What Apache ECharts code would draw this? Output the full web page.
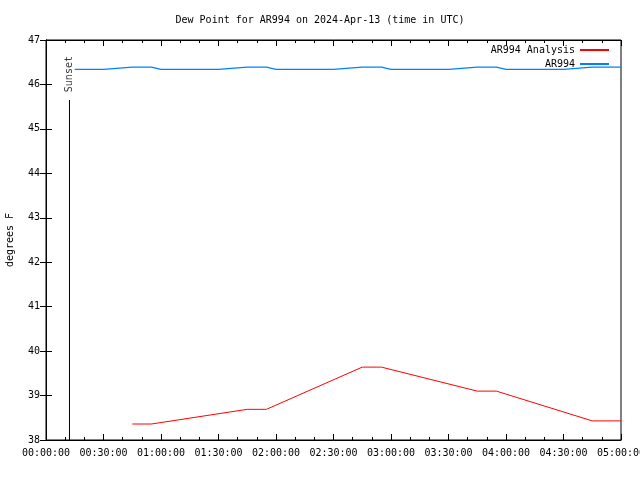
<!DOCTYPE html>
<html>
<head>
<meta charset="utf-8">
<script src="https://cdn.jsdelivr.net/npm/echarts@6/dist/echarts.min.js"></script>
<style>html,body{margin:0;padding:0;background:#fff}#c{width:640px;height:480px}</style>
</head>
<body>
<div id="c"></div>
<script>
const titleText = "Dew Point for AR994 on 2024-Apr-13 (time in UTC)";
const yAxisName = "degrees F";
const analysisName = "AR994 Analysis";
const obsName = "AR994";

const analysisTimes = ["00:45","00:55","01:45","01:55","02:45","02:55","03:45","03:55","04:45","04:55","05:00"];
const analysisValues = [38.36,38.36,38.69,38.69,39.64,39.64,39.10,39.10,38.43,38.43,38.43];

const obsTimes = ["00:15","00:30","00:45","00:55","01:00","01:15","01:30","01:45","01:55","02:00",
                  "02:15","02:30","02:45","02:55","03:00","03:15","03:30","03:45","03:55","04:00",
                  "04:15","04:30","04:45","04:55","05:00"];
const obsValues = [46.34,46.34,46.39,46.39,46.34,46.34,46.34,46.39,46.39,46.34,
                   46.34,46.34,46.39,46.39,46.34,46.34,46.34,46.39,46.39,46.34,
                   46.34,46.34,46.39,46.39,46.39];

const sunsetTime = "00:12:15";
const sunsetLabel = "Sunset";
const sunsetTop = 45.65;
const sunsetLabelY = 46.21;

const xMin = 0, xMax = 300, xInterval = 30;
const yMin = 38, yMax = 47, yInterval = 1;

function toMin(t){ const p = t.split(":"); return (+p[0])*60 + (+p[1]) + (p[2] ? (+p[2])/60 : 0); }
function fmt(m){ const h = Math.floor(m/60), mm = m%60; return String(h).padStart(2,"0")+":"+String(mm).padStart(2,"0")+":00"; }
function pairs(ts, vs){ return ts.map((t,i)=>[toMin(t), vs[i]]); }

const FONT = "'DejaVu Sans Mono', monospace";
const chart = echarts.init(document.getElementById('c'), null, {renderer:'canvas'});
const tickCommon = {show:true, inside:true, length:6, lineStyle:{color:'#000', width:1}};
const minorCommon = {show:true, splitNumber:3, length:3, lineStyle:{color:'#000', width:1}};
chart.setOption({
  animation:false,
  backgroundColor:'#fff',
  textStyle:{fontFamily:FONT},
  title:{text:titleText, left:'center', top:10, textStyle:{fontFamily:FONT, fontSize:10, fontWeight:'normal', color:'#000'}},
  legend:{
    data:[analysisName, obsName], orient:'vertical', right:26, top:40, align:'right',
    itemWidth:29, itemHeight:2, itemGap:4, icon:'rect',
    textStyle:{fontFamily:FONT, fontSize:10, color:'#000'}
  },
  grid:{left:46, right:19, top:40, bottom:40, show:true, borderColor:'#000', borderWidth:1,
        containLabel:false, outerBoundsMode:'none'},
  xAxis:[
    {type:'value', min:xMin, max:xMax, interval:xInterval, position:'bottom',
     axisLine:{show:true, lineStyle:{color:'#000'}}, splitLine:{show:false},
     axisTick:tickCommon, minorTick:minorCommon,
     axisLabel:{formatter:fmt, fontFamily:FONT, fontSize:10, color:'#000', margin:8, hideOverlap:false}},
    {type:'value', min:xMin, max:xMax, interval:xInterval, position:'top',
     axisLine:{show:true, lineStyle:{color:'#000'}}, splitLine:{show:false},
     axisTick:tickCommon, minorTick:minorCommon, axisLabel:{show:false}}
  ],
  yAxis:[
    {type:'value', min:yMin, max:yMax, interval:yInterval, position:'left',
     name:yAxisName, nameLocation:'middle', nameGap:31, nameRotate:90,
     nameTextStyle:{fontFamily:FONT, fontSize:10, color:'#000'},
     axisLine:{show:true, lineStyle:{color:'#000'}}, splitLine:{show:false},
     axisTick:tickCommon,
     axisLabel:{fontFamily:FONT, fontSize:10, color:'#000', margin:6}},
    {type:'value', min:yMin, max:yMax, interval:yInterval, position:'right',
     axisLine:{show:true, lineStyle:{color:'#000'}}, splitLine:{show:false},
     axisTick:tickCommon, axisLabel:{show:false}}
  ],
  series:[
    {name:analysisName, type:'line', data:pairs(analysisTimes, analysisValues), showSymbol:false,
     lineStyle:{color:'#ff0000', width:1}, itemStyle:{color:'#ff0000'}},
    {name:obsName, type:'line', data:pairs(obsTimes, obsValues), showSymbol:false,
     lineStyle:{color:'#0080ff', width:1.3}, itemStyle:{color:'#0080ff'}},
    {name:'sunsetLine', type:'line', data:[[toMin(sunsetTime), yMin],[toMin(sunsetTime), sunsetTop]], showSymbol:false,
     lineStyle:{color:'#000', width:1}, silent:true},
    {name:'sunsetText', type:'scatter', symbolSize:0, data:[[toMin(sunsetTime), sunsetLabelY]], silent:true,
     label:{show:true, formatter:sunsetLabel, position:'inside', rotate:90, offset:[1,0],
            fontFamily:FONT, fontSize:10, color:'#000'}}
  ]
});
</script>
</body>
</html>
